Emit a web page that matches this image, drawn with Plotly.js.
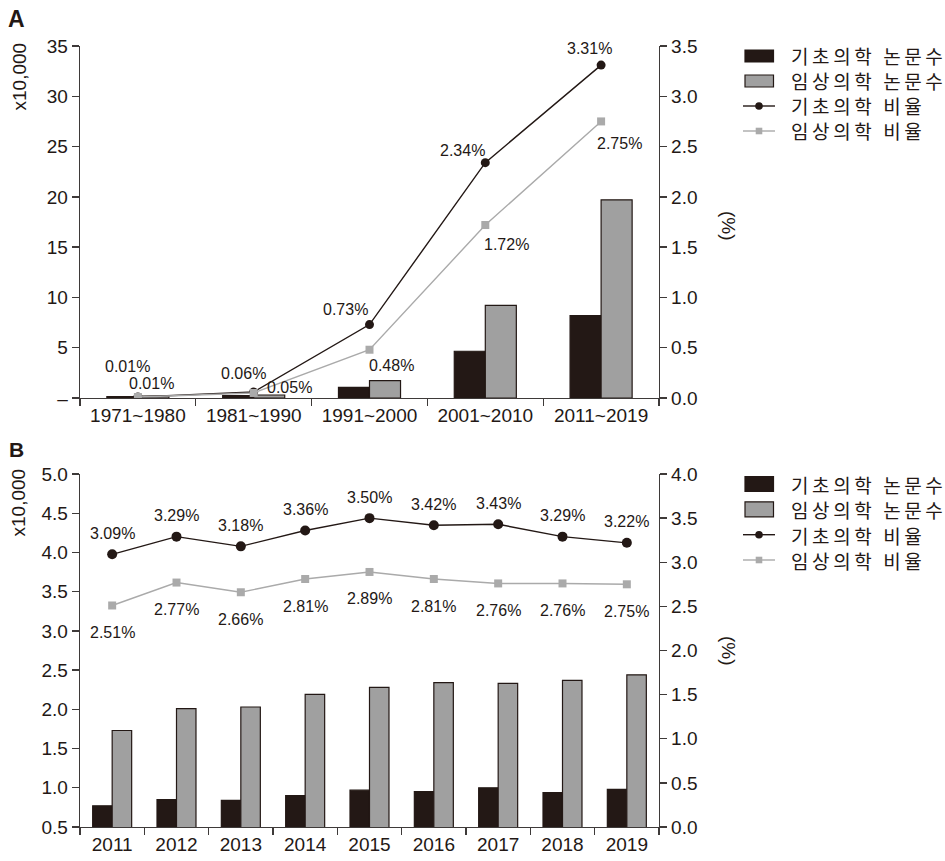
<!DOCTYPE html>
<html>
<head>
<meta charset="utf-8">
<script src="https://cdn.plot.ly/plotly-3.0.1.min.js"></script>
<style>html,body{margin:0;padding:0;background:#fff;}#chart{width:945px;height:861px;}</style>
</head>
<body>
<div id="chart"></div>
<script>
// ---------- Data (panel A) ----------
const periods = ['1971~1980', '1981~1990', '1991~2000', '2001~2010', '2011~2019'];
const basicCountA = [0.15, 0.25, 1.05, 4.65, 8.2];      // x10,000
const clinicalCountA = [0.2, 0.3, 1.72, 9.2, 19.7];     // x10,000
const basicRateA = [0.01, 0.06, 0.73, 2.34, 3.31];      // %
const clinicalRateA = [0.01, 0.05, 0.48, 1.72, 2.75];   // %

// ---------- Data (panel B) ----------
const years = ['2011', '2012', '2013', '2014', '2015', '2016', '2017', '2018', '2019'];
const basicCountB = [0.77, 0.85, 0.84, 0.90, 0.97, 0.95, 1.00, 0.94, 0.98];
const clinicalCountB = [1.73, 2.01, 2.03, 2.19, 2.28, 2.34, 2.33, 2.37, 2.44];
const basicRateB = [3.09, 3.29, 3.18, 3.36, 3.50, 3.42, 3.43, 3.29, 3.22];
const clinicalRateB = [2.51, 2.77, 2.66, 2.81, 2.89, 2.81, 2.76, 2.76, 2.75];

// ---------- Labels ----------
const nameBasicCount = '기초의학 논문수';
const nameClinicalCount = '임상의학 논문수';
const nameBasicRate = '기초의학 비율';
const nameClinicalRate = '임상의학 비율';
const legendNames = [nameBasicCount, nameClinicalCount, nameBasicRate, nameClinicalRate];

// ---------- Styles ----------
const DARK = '#231815';
const BARGREY = '#a0a0a0';
const LINEGREY = '#aaaaaa';
const AXIS = '#3e3a39';
const NUMFONT = 'Liberation Sans, Arial, sans-serif';
const KRFONT = 'Noto Sans CJK KR, Noto Sans, sans-serif';

// plot-area geometry in pixels (for paper-coordinate helpers)
const W = 945, H = 861, ML = 80, MR = 286, MT = 46, MB = 34;
const PW = W - ML - MR, PH = H - MT - MB;
const px = v => (v - ML) / PW;
const py = v => 1 - (v - MT) / PH;

// label offsets (px) for percentage labels
const offBasicA = [[-10, 30], [-10, 18], [-24, 15], [-23, 12], [-12, 17]];
const offClinA = [[14, 13], [36, 5], [22, -16], [21, -19], [18, -22]];
const offBasicB = 21, offClinB = -27;

const wA = 0.268, wB = 0.303;

const traces = [
  {type: 'bar', x: periods, y: basicCountA, name: nameBasicCount, xaxis: 'x', yaxis: 'y',
   width: wA, offset: -wA, marker: {color: DARK, line: {color: DARK, width: 1.2}}},
  {type: 'bar', x: periods, y: clinicalCountA, name: nameClinicalCount, xaxis: 'x', yaxis: 'y',
   width: wA, offset: 0, marker: {color: BARGREY, line: {color: DARK, width: 1.2}}},
  {type: 'scatter', mode: 'lines+markers', x: periods, y: basicRateA, name: nameBasicRate, xaxis: 'x', yaxis: 'y2',
   line: {color: DARK, width: 1.4}, marker: {symbol: 'circle', size: 9, color: DARK}},
  {type: 'scatter', mode: 'lines+markers', x: periods, y: clinicalRateA, name: nameClinicalRate, xaxis: 'x', yaxis: 'y2',
   line: {color: LINEGREY, width: 1.4}, marker: {symbol: 'square', size: 8, color: LINEGREY}},

  {type: 'bar', x: years, y: basicCountB, name: nameBasicCount, xaxis: 'x2', yaxis: 'y3',
   width: wB, offset: -wB, marker: {color: DARK, line: {color: DARK, width: 1.2}}},
  {type: 'bar', x: years, y: clinicalCountB, name: nameClinicalCount, xaxis: 'x2', yaxis: 'y3',
   width: wB, offset: 0, marker: {color: BARGREY, line: {color: DARK, width: 1.2}}},
  {type: 'scatter', mode: 'lines+markers', x: years, y: basicRateB, name: nameBasicRate, xaxis: 'x2', yaxis: 'y4',
   line: {color: DARK, width: 1.4}, marker: {symbol: 'circle', size: 10, color: DARK}},
  {type: 'scatter', mode: 'lines+markers', x: years, y: clinicalRateB, name: nameClinicalRate, xaxis: 'x2', yaxis: 'y4',
   line: {color: LINEGREY, width: 1.4}, marker: {symbol: 'square', size: 8, color: LINEGREY}}
];

const annotations = [];
const shapes = [];
const pct = v => v.toFixed(2) + '%';
const lblFont = {family: NUMFONT, size: 16, color: DARK};
periods.forEach((p, i) => {
  annotations.push({xref: 'x', yref: 'y2', x: i, y: basicRateA[i], text: pct(basicRateA[i]), showarrow: false,
    xanchor: 'center', yanchor: 'middle', xshift: offBasicA[i][0], yshift: offBasicA[i][1], font: lblFont});
  annotations.push({xref: 'x', yref: 'y2', x: i, y: clinicalRateA[i], text: pct(clinicalRateA[i]), showarrow: false,
    xanchor: 'center', yanchor: 'middle', xshift: offClinA[i][0], yshift: offClinA[i][1], font: lblFont});
});
years.forEach((yv, i) => {
  annotations.push({xref: 'x2', yref: 'y4', x: i, y: basicRateB[i], text: pct(basicRateB[i]), showarrow: false,
    xanchor: 'center', yanchor: 'middle', yshift: offBasicB, font: lblFont});
  annotations.push({xref: 'x2', yref: 'y4', x: i, y: clinicalRateB[i], text: pct(clinicalRateB[i]), showarrow: false,
    xanchor: 'center', yanchor: 'middle', yshift: offClinB, font: lblFont});
});

const titleFont = {family: NUMFONT, size: 19, color: DARK};
const paperNote = (x, y, text, angle, font) => ({xref: 'paper', yref: 'paper', x: px(x), y: py(y), text: text,
  textangle: angle, showarrow: false, xanchor: 'center', yanchor: 'middle', font: font});
annotations.push(
  paperNote(18.5, 77, 'x10,000', -90, titleFont),
  paperNote(18.5, 503, 'x10,000', -90, titleFont),
  paperNote(729, 226, '(%)', 90, titleFont),
  paperNote(729, 651, '(%)', 90, titleFont),
  paperNote(16.5, 18.5, '<b>A</b>', 0, {family: NUMFONT, size: 23, color: DARK}),
  paperNote(16.5, 449.5, '<b>B</b>', 0, {family: NUMFONT, size: 21, color: DARK})
);

// ---------- Hand-drawn legends (one per panel) ----------
function addLegend(rows, rectH) {
  // rows: pixel centres of the four legend rows (evenly spaced)
  [[DARK, 0], [BARGREY, 1]].forEach(([fill, k]) => {
    shapes.push({type: 'rect', xref: 'paper', yref: 'paper', x0: px(745), x1: px(773.5),
      y0: py(rows[k] - rectH / 2), y1: py(rows[k] + rectH / 2),
      fillcolor: fill, line: {color: DARK, width: 1.2}});
  });
  [[DARK, 2, 'circle'], [LINEGREY, 3, 'rect']].forEach(([col, k, sym]) => {
    shapes.push({type: 'line', xref: 'paper', yref: 'paper', x0: px(743), x1: px(775),
      y0: py(rows[k]), y1: py(rows[k]), line: {color: col, width: 1.4}});
    const r = sym === 'circle' ? 3.8 : 3.3;
    shapes.push({type: sym, xref: 'paper', yref: 'paper', x0: px(759 - r), x1: px(759 + r),
      y0: py(rows[k] - r), y1: py(rows[k] + r), fillcolor: col, line: {color: col, width: 0}});
  });
  const step = (rows[3] - rows[0]) / 3;
  const baseSize = step / 1.3;  // Plotly line spacing is 1.3em of the base font
  const text = legendNames.map(n => '<span style="font-size:19px;letter-spacing:3.6px">' + n + '</span>').join('<br>');
  annotations.push({xref: 'paper', yref: 'paper', x: px(789), y: py((rows[0] + rows[3]) / 2), text: text,
    showarrow: false, xanchor: 'left', yanchor: 'middle', align: 'left',
    font: {family: KRFONT, size: baseSize, color: DARK}});
}
addLegend([56, 81, 106, 131], 12);
addLegend([484, 509.3, 534.7, 560], 15);

const tickFont = {family: NUMFONT, size: 19, color: DARK};
const axisCommon = {showline: true, linecolor: AXIS, linewidth: 1.3, ticks: 'outside', ticklen: 7, tickwidth: 1.3,
  tickcolor: AXIS, showgrid: false, zeroline: false, tickfont: tickFont, fixedrange: true};

const domA = [1 - 352 / PH, 1];
const domB = [0, 353 / PH];

const layout = {
  width: W, height: H,
  margin: {l: ML, r: MR, t: MT, b: MB},
  paper_bgcolor: '#ffffff', plot_bgcolor: '#ffffff',
  barmode: 'overlay',
  showlegend: false,
  font: {family: NUMFONT, color: DARK},
  xaxis: Object.assign({}, axisCommon, {anchor: 'y', domain: [0, 1], type: 'category', tickson: 'boundaries',
    categoryorder: 'array', categoryarray: periods, range: [-0.5, periods.length - 0.5]}),
  yaxis: Object.assign({}, axisCommon, {anchor: 'x', domain: domA, range: [0, 35],
    tickvals: [0, 5, 10, 15, 20, 25, 30, 35], ticktext: ['–', '5', '10', '15', '20', '25', '30', '35']}),
  yaxis2: Object.assign({}, axisCommon, {anchor: 'x', overlaying: 'y', side: 'right', range: [0, 3.5],
    dtick: 0.5, tick0: 0, tickformat: '.1f'}),
  xaxis2: Object.assign({}, axisCommon, {anchor: 'y3', domain: [0, 1], type: 'category', tickson: 'boundaries',
    categoryorder: 'array', categoryarray: years, range: [-0.5, years.length - 0.5]}),
  yaxis3: Object.assign({}, axisCommon, {anchor: 'x2', domain: domB, range: [0.5, 5.0], dtick: 0.5, tick0: 0.5, tickformat: '.1f'}),
  yaxis4: Object.assign({}, axisCommon, {anchor: 'x2', overlaying: 'y3', side: 'right', range: [0, 4.0],
    dtick: 0.5, tick0: 0, tickformat: '.1f'}),
  annotations: annotations,
  shapes: shapes
};

Plotly.newPlot('chart', traces, layout, {displayModeBar: false, staticPlot: true});
</script>
</body>
</html>
